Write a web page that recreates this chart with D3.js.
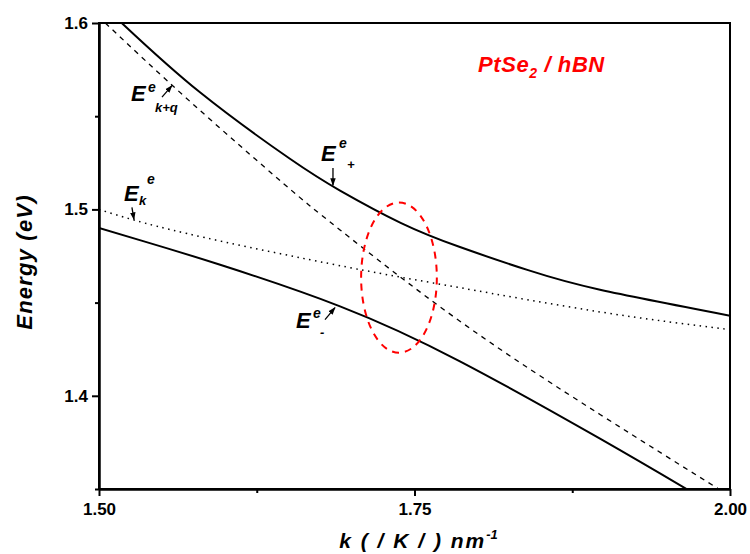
<!DOCTYPE html>
<html>
<head>
<meta charset="utf-8">
<script src="https://cdn.jsdelivr.net/npm/d3@7"></script>
<style>
  body { margin: 0; background: #fff; }
  svg { font-family: "Liberation Sans", Arial, sans-serif; }
  .tick text { font-size: 17px; font-weight: bold; }
</style>
</head>
<body>
<svg id="chart" width="750" height="554"></svg>
<script>
// curves: [k (nm^-1), energy (eV)]
const ePlus = [[1.518, 1.600], [1.580, 1.5628], [1.651, 1.5273], [1.691, 1.5101], [1.739, 1.4928],
  [1.786, 1.4798], [1.840, 1.4674], [1.897, 1.4569], [2.000, 1.443]];
const eMinus = [[1.500, 1.490], [1.535, 1.483], [1.596, 1.4703], [1.691, 1.448], [1.786, 1.4185],
  [1.897, 1.377], [1.968, 1.349]];
const eK = [[1.500, 1.500], [1.570, 1.487], [1.697, 1.469], [1.786, 1.458], [1.897, 1.445], [2.000, 1.4355]];
const eKq = [[1.505, 1.600], [1.572, 1.558], [1.646, 1.514], [1.691, 1.489], [1.786, 1.440],
  [1.897, 1.390], [1.991, 1.350]];

const xTicks = [1.50, 1.75, 2.00];
const xMinor = [1.625, 1.875];
const yTicks = [1.4, 1.5, 1.6];
const yMinor = [1.35, 1.45, 1.55];

// anticrossing region (ellipse): centre k, centre E, half-width k, half-height E
const ring = { k: 1.7377, e: 1.4634, rk: 0.030, re: 0.0403 };

// labels: text pieces + arrow from/to in data units
const labels = [
  { k: 1.5254, e: 1.5581, sup: "e", sub: "k+q", supDx: 17, supDy: -9, subDx: 24, subDy: 11,
    arrow: [[1.5499, 1.5602], [1.5578, 1.5664]] },
  { k: 1.6759, e: 1.5258, sup: "e", sub: "+", supDx: 18, supDy: -13, subDx: 26, subDy: 8,
    arrow: [[1.6854, 1.5222], [1.6854, 1.5129]] },
  { k: 1.5198, e: 1.5043, sup: "e", sub: "k", supDx: 23, supDy: -17, subDx: 15, subDy: 4,
    arrow: [[1.5261, 1.5011], [1.5277, 1.4946]] },
  { k: 1.6561, e: 1.4366, sup: "e", sub: "-", supDx: 17, supDy: -10, subDx: 24, subDy: 9,
    arrow: [[1.6791, 1.4409], [1.6870, 1.4473]] }
];

const margin = { top: 23, right: 20, bottom: 65, left: 99 };
const width = 750 - margin.left - margin.right;
const height = 554 - margin.top - margin.bottom;

const svg = d3.select("#chart");
const g = svg.append("g").attr("transform", `translate(${margin.left},${margin.top})`);

const x = d3.scaleLinear().domain([1.5, 2.0]).range([0, width]);
const y = d3.scaleLinear().domain([1.35, 1.6]).range([height, 0]);

svg.append("defs").append("clipPath").attr("id", "clip")
  .append("rect").attr("width", width).attr("height", height);

svg.select("defs").append("marker")
  .attr("id", "head").attr("viewBox", "0 0 10 10").attr("refX", 9).attr("refY", 5)
  .attr("markerWidth", 6).attr("markerHeight", 6).attr("orient", "auto")
  .append("path").attr("d", "M0,1.5 L10,5 L0,8.5 Z").attr("fill", "#000");

// axes
const xAxis = g.append("g").attr("transform", `translate(0,${height})`)
  .call(d3.axisBottom(x).tickValues(xTicks).tickFormat(d3.format(".2f")).tickSize(7).tickSizeOuter(0).tickPadding(7));
const xAxisMinor = g.append("g").attr("transform", `translate(0,${height})`)
  .call(d3.axisBottom(x).tickValues(xMinor).tickFormat("").tickSize(4).tickSizeOuter(0));
const yAxis = g.append("g")
  .call(d3.axisLeft(y).tickValues(yTicks).tickFormat(d3.format(".1f")).tickSize(7).tickSizeOuter(0).tickPadding(4));
const yAxisMinor = g.append("g")
  .call(d3.axisLeft(y).tickValues(yMinor).tickFormat("").tickSize(4).tickSizeOuter(0));

[xAxis, xAxisMinor, yAxis, yAxisMinor].forEach(a => {
  a.select(".domain").attr("stroke-width", 2);
  a.selectAll(".tick line").attr("stroke-width", 2);
});

// frame
g.append("rect").attr("width", width).attr("height", height)
  .attr("fill", "none").attr("stroke", "#000").attr("stroke-width", 2);

const line = d3.line().x(d => x(d[0])).y(d => y(d[1])).curve(d3.curveNatural);
const plot = g.append("g").attr("clip-path", "url(#clip)");

plot.append("path").datum(eK).attr("d", line).attr("fill", "none")
  .attr("stroke", "#000").attr("stroke-width", 1.5).attr("stroke-dasharray", "1.5,4.5");
plot.append("path").datum(eKq).attr("d", line).attr("fill", "none")
  .attr("stroke", "#000").attr("stroke-width", 1.3).attr("stroke-dasharray", "5,5");
plot.append("path").datum(ePlus).attr("d", line).attr("fill", "none")
  .attr("stroke", "#000").attr("stroke-width", 2);
plot.append("path").datum(eMinus).attr("d", line).attr("fill", "none")
  .attr("stroke", "#000").attr("stroke-width", 2);

// red dashed ellipse
g.append("ellipse")
  .attr("cx", x(ring.k)).attr("cy", y(ring.e))
  .attr("rx", x(ring.k + ring.rk) - x(ring.k)).attr("ry", y(ring.e - ring.re) - y(ring.e))
  .attr("fill", "none").attr("stroke", "#ff0000").attr("stroke-width", 2).attr("stroke-dasharray", "7,6");

// curve labels
labels.forEach(l => {
  const px = x(l.k), py = y(l.e);
  g.append("text").attr("x", px).attr("y", py)
    .style("font-size", "22px").style("font-weight", "bold").style("font-style", "italic").text("E");
  g.append("text").attr("x", px + l.supDx).attr("y", py + l.supDy)
    .style("font-size", "14px").style("font-weight", "bold").style("font-style", "italic").text(l.sup);
  g.append("text").attr("x", px + l.subDx).attr("y", py + l.subDy)
    .style("font-size", "13px").style("font-weight", "bold").style("font-style", "italic").text(l.sub);
  g.append("line")
    .attr("x1", x(l.arrow[0][0])).attr("y1", y(l.arrow[0][1]))
    .attr("x2", x(l.arrow[1][0])).attr("y2", y(l.arrow[1][1]))
    .attr("stroke", "#000").attr("stroke-width", 1.3).attr("marker-end", "url(#head)");
});

// sample title
const title = svg.append("text").attr("x", 478).attr("y", 72)
  .attr("fill", "#ff0000").style("font-size", "22px").style("font-weight", "bold").style("font-style", "italic")
  .style("letter-spacing", "0.6px");
title.append("tspan").text("PtSe");
title.append("tspan").attr("dy", 6).style("font-size", "14px").text("2");
title.append("tspan").attr("dy", -6).text(" / hBN");

// axis titles
svg.append("text")
  .attr("transform", "translate(32,262) rotate(-90)")
  .attr("text-anchor", "middle")
  .style("font-size", "22px").style("font-weight", "bold").style("font-style", "italic")
  .style("letter-spacing", "1.2px")
  .text("Energy (eV)");

const xt = svg.append("text")
  .attr("x", margin.left + width / 2 + 4).attr("y", 548)
  .attr("text-anchor", "middle")
  .style("font-size", "21px").style("font-weight", "bold").style("font-style", "italic")
  .style("letter-spacing", "2px");
xt.append("tspan").text("k ( / K / ) nm");
xt.append("tspan").attr("dy", -9).style("font-size", "13px").style("letter-spacing", "0px").text("-1");
</script>
</body>
</html>
